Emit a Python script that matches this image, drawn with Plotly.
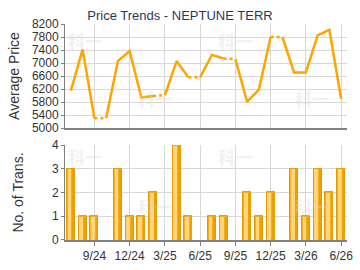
import plotly.graph_objects as go

months = ["7/24","8/24","9/24","10/24","11/24","12/24","1/25","2/25","3/25","4/25","5/25","6/25",
          "7/25","8/25","9/25","10/25","11/25","12/25","1/26","2/26","3/26","4/26","5/26","6/26"]
price = [6150, 7420, 5300, 5300, 7060, 7370, 5940, 5990, 6010, 7060, 6560, 6560,
         7250, 7140, 7120, 5810, 6180, 7800, 7800, 6710, 6710, 7850, 8020, 5900]
trans = [3, 1, 1, 0, 3, 1, 1, 2, 0, 4, 1, 0, 1, 1, 0, 2, 1, 2, 0, 3, 1, 3, 2, 3]
tick_idx = [2, 5, 8, 11, 14, 17, 20, 23]
tick_text = ["9/24", "12/24", "3/25", "6/25", "9/25", "12/25", "3/26", "6/26"]

x = list(range(len(months)))

# solid segments: break before months without transactions
sx, sy = [], []
dx, dy = [], []
for i in x:
    if i > 0 and trans[i] == 0:
        sx.append(None); sy.append(None)
        dx += [i - 1, i, None]; dy += [price[i - 1], price[i], None]
    sx.append(i); sy.append(price[i])

LINE = "#FFA500"
fig = go.Figure()
fig.add_trace(go.Scatter(x=dx, y=dy, mode="lines", line=dict(color=LINE, width=2.5, dash="dot"),
                         xaxis="x", yaxis="y", hoverinfo="skip"))
fig.add_trace(go.Scatter(x=sx, y=sy, mode="lines", line=dict(color=LINE, width=2.5),
                         xaxis="x", yaxis="y"))

# bars with simple shading layers (only where there are transactions)
bx = [i for i in x if trans[i] > 0]
bt = [trans[i] for i in bx]
fig.add_trace(go.Bar(x=bx, y=bt, width=0.7, marker=dict(color="#F5AE1E", line=dict(color="#E39A00", width=1)),
                     xaxis="x2", yaxis="y2"))
fig.add_trace(go.Bar(x=[v - 0.12 for v in bx], y=[t - 0.03 for t in bt], width=0.32,
                     marker=dict(color="#FFD579", line=dict(width=0)), xaxis="x2", yaxis="y2", hoverinfo="skip"))
fig.add_trace(go.Bar(x=[v + 0.2 for v in bx], y=[t - 0.03 for t in bt], width=0.12,
                     marker=dict(color="#EFA000", line=dict(width=0)), xaxis="x2", yaxis="y2", hoverinfo="skip"))

GRID = "#D8D8D8"
AX = "#808080"
tickfont = dict(family="Liberation Sans, Arial, sans-serif", size=12, color="#333333")
titlefont = dict(family="Liberation Sans, Arial, sans-serif", size=14, color="#333333")

annots = []
for (ax_, ay_, xr, yr) in [(1.2, 7700, "x", "y"), (14.0, 7700, "x", "y"),
                          (7.2, 5900, "x", "y"), (20.5, 5900, "x", "y"),
                          (1.2, 3.5, "x2", "y2"), (14.0, 3.5, "x2", "y2"),
                          (7.2, 1.4, "x2", "y2"), (20.5, 1.4, "x2", "y2")]:
    annots.append(dict(x=ax_, y=ay_, xref=xr, yref=yr, text="<b>科一</b>", showarrow=False,
                       font=dict(family="Noto Sans CJK SC", size=17, color="rgba(215,215,215,0.35)")))

fig.update_layout(
    width=360, height=270,
    margin=dict(l=65, r=7, t=24, b=26),
    paper_bgcolor="white", plot_bgcolor="white",
    showlegend=False, barmode="overlay", bargap=0,
    title=dict(text="Price Trends - NEPTUNE TERR", x=0.5, xanchor="center", y=1 - 15 / 270,
               yanchor="middle", yref="container",
               font=dict(family="Liberation Sans, Arial, sans-serif", size=13, color="#1F3B5C")),
    xaxis=dict(domain=[0, 1], range=[-0.5, 23.5], tickvals=tick_idx, ticktext=tick_text,
               showticklabels=False, showgrid=True, gridcolor=GRID, zeroline=False,
               showline=True, linecolor=AX, linewidth=2, anchor="y", ticks=""),
    yaxis=dict(domain=[0.518, 1], range=[5000, 8200], dtick=400, tick0=5000, showgrid=True,
               gridcolor=GRID, zeroline=False, showline=True, linecolor=AX, linewidth=1,
               tickfont=tickfont, title=dict(text="Average Price", font=titlefont, standoff=8),
               ticks="outside", ticklen=3, tickcolor=AX, anchor="x"),
    xaxis2=dict(domain=[0, 1], range=[-0.5, 23.5], tickvals=tick_idx, ticktext=tick_text,
                showgrid=True, gridcolor=GRID, zeroline=False, showline=True, linecolor=AX, linewidth=2,
                ticks="outside", ticklen=4, tickcolor=AX, tickfont=tickfont, anchor="y2"),
    yaxis2=dict(domain=[0, 0.4395], range=[0, 4], dtick=1, showgrid=True, gridcolor=GRID,
                zeroline=False, showline=True, linecolor=AX, linewidth=1, tickfont=tickfont,
                title=dict(text="No. of Trans.", font=titlefont, standoff=25),
                ticks="outside", ticklen=3, tickcolor=AX, anchor="x2"),
    annotations=annots,
)

fig.write_html("out.html")
